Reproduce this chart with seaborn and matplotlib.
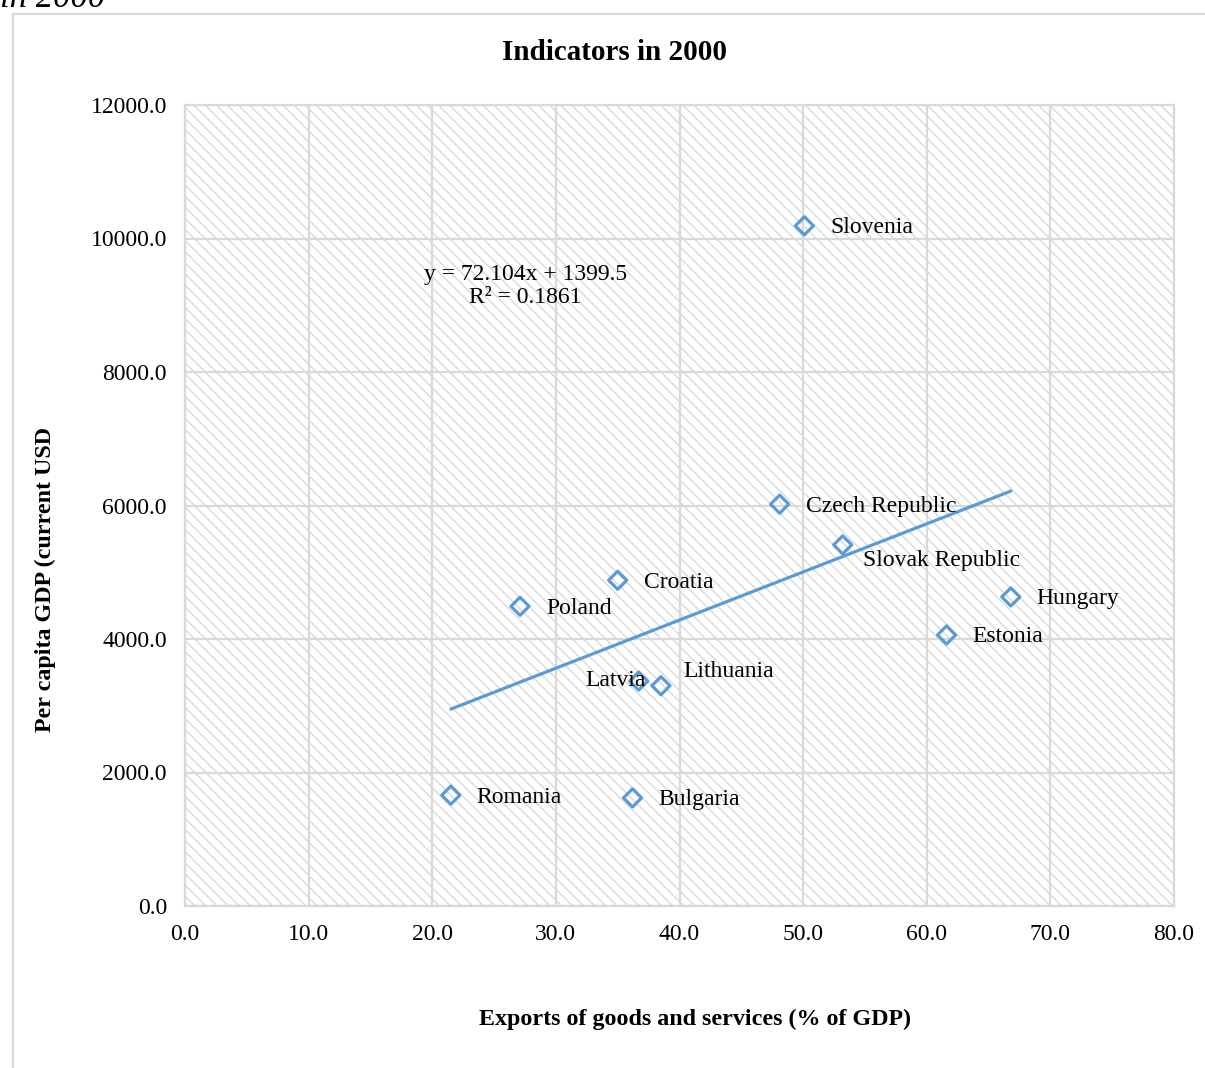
import matplotlib
matplotlib.use("Agg")
import matplotlib.pyplot as plt
from matplotlib.patches import Rectangle
import numpy as np
import pandas as pd
import seaborn as sns

# Exports (% of GDP) vs per capita GDP (current USD), year 2000
countries = ["Slovenia", "Czech Republic", "Slovak Republic", "Croatia", "Poland",
             "Hungary", "Estonia", "Latvia", "Lithuania", "Romania", "Bulgaria"]
exports_pct = [50.1, 48.1, 53.2, 35.0, 27.1, 66.8, 61.6, 36.7, 38.5, 21.5, 36.2]
gdp_per_capita = [10190, 6020, 5410, 4880, 4490, 4630, 4060, 3370, 3300, 1660, 1620]

# Linear trend as reported on the chart
trend_slope = 72.104
trend_intercept = 1399.5
trend_r2 = 0.1861

x_ticks = [0, 10, 20, 30, 40, 50, 60, 70, 80]
y_ticks = [0, 2000, 4000, 6000, 8000, 10000, 12000]

df = pd.DataFrame({"country": countries, "exports": exports_pct, "gdp": gdp_per_capita})

BLUE = "#5b9bd5"
GRID = "#d9d9d9"
FS = 17

sns.set_theme(style="white")
plt.rcParams["font.family"] = ["Liberation Serif", "DejaVu Serif"]
plt.rcParams["text.color"] = "black"
plt.rcParams["axes.labelcolor"] = "black"
plt.rcParams["xtick.color"] = "black"
plt.rcParams["ytick.color"] = "black"
plt.rcParams["hatch.color"] = "#d9d9d9"
plt.rcParams["hatch.linewidth"] = 1.0

fig = plt.figure(figsize=(12.05, 10.68), dpi=100)
ax = fig.add_axes([185 / 1205, 1 - 906 / 1068, (1174 - 185) / 1205, (906 - 105) / 1068])

# Outer chart frame (runs off the right and bottom edges)
fig.add_artist(Rectangle((13 / 1205, -0.05), 1.1, 1 - 14 / 1068 + 0.05,
                         transform=fig.transFigure, fill=False,
                         edgecolor=GRID, linewidth=1.5, zorder=0))
fig.text(0.0, 1 - 7 / 1068, "in 2000", fontsize=25, style="italic",
         ha="left", va="baseline", color="black")

# Diagonal hatched plot area
ax.add_patch(Rectangle((0, 0), 1, 1, transform=ax.transAxes, facecolor="white",
                       edgecolor="#d9d9d9", hatch="\\\\\\", linewidth=0, zorder=0))

sns.scatterplot(data=df, x="exports", y="gdp", ax=ax, marker="D", s=85,
                color=BLUE, facecolor="none", edgecolor=BLUE, linewidth=2.3, zorder=4)

xs = np.array([min(exports_pct), max(exports_pct)])
sns.lineplot(x=xs, y=trend_slope * xs + trend_intercept, ax=ax, color=BLUE,
             linewidth=2.3, zorder=3)

# Data labels (offsets in pixels)
offsets = {
    "Latvia": (7, -1, "right"),
    "Lithuania": (22, -14, "left"),
    "Slovak Republic": (20, 16, "left"),
}
for c, xv, yv in zip(countries, exports_pct, gdp_per_capita):
    dx, dy, ha = offsets.get(c, (26, 2, "left"))
    ax.annotate(c, (xv, yv), xytext=(dx * 0.72, -dy * 0.72), textcoords="offset points",
                ha=ha, va="center", fontsize=FS, color="black", zorder=5)

ax.annotate(f"y = {trend_slope}x + {trend_intercept}\nR² = {trend_r2}",
            xy=(0.344, 0.774), xycoords="axes fraction", ha="center", va="center",
            fontsize=FS, linespacing=1.15)

ax.set_xlim(0, 80)
ax.set_ylim(0, 12000)
ax.set_xticks(x_ticks)
ax.set_yticks(y_ticks)
ax.set_xticklabels([f"{v:.1f}" for v in x_ticks], fontsize=FS)
ax.set_yticklabels([f"{v:.1f}" for v in y_ticks], fontsize=FS)
ax.tick_params(axis="both", length=0, colors="black")
ax.tick_params(axis="x", pad=13)
ax.tick_params(axis="y", pad=13)
ax.grid(True, color=GRID, linewidth=1.6, zorder=1)
ax.set_axisbelow(True)
for s in ax.spines.values():
    s.set_color(GRID)
    s.set_linewidth(1.6)
ax.set_xlabel("")
ax.set_ylabel("")

fig.text(615 / 1205, 1 - 52 / 1068, "Indicators in 2000", fontsize=21,
         fontweight="bold", ha="center", va="center")
fig.text(695 / 1205, 1 - 1019 / 1068, "Exports of goods and services (% of GDP)",
         fontsize=17.3, fontweight="bold", ha="center", va="center")
fig.text(45 / 1205, 1 - 580 / 1068, "Per capita GDP (current USD", fontsize=17.3,
         fontweight="bold", ha="center", va="center", rotation=90)

fig.savefig("out.png", dpi=100)
